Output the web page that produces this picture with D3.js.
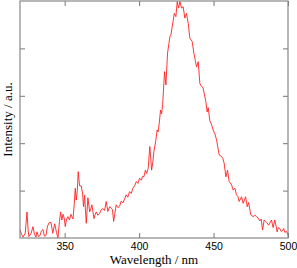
<!DOCTYPE html>
<html lang="en">
  <head>
    <meta charset="utf-8">
    <title>Emission spectrum</title>
    <script src="https://cdn.jsdelivr.net/npm/d3@7/dist/d3.min.js"></script>
    <style>
      body { margin: 0; background: #fff; }
    </style>
  </head>
  <body>
    <script>
      const WIDTH = 297;
      const HEIGHT = 268;

      // spectrum (nm, arbitrary units)
      var wavelength = [320, 321, 322, 323.5, 324.7, 325.5, 326, 327.5, 328.7, 329.7, 330.7, 331.4, 332.4, 333.4,
        334.4, 335.4, 336.4, 337.4, 338.5, 339.5, 340.8, 342, 343.3, 344.5, 345.5, 346.5, 347.3, 348.1, 348.9,
        349.7, 350.4, 351.3, 352.2, 353.2, 354.2, 355, 355.6, 356.4, 357.1, 357.8, 358.5, 359.1, 360, 361.1,
        362, 362.7, 363.4, 364.5, 365.6, 366.8, 367.5, 368.3, 369.7, 370.5, 371.2, 372.3, 373.5, 374.6, 375.7,
        376.8, 377.9, 379, 380.2, 381.3, 382.1, 382.9, 384.6, 385.8, 386.9, 388, 389.1, 390.2, 391.3, 392.4,
        393.6, 394.7, 395.8, 397, 398.1, 399.2, 400.3, 401.5, 402.3, 403.2, 404.2, 405.1, 406.1, 407.2, 408.4,
        409.2, 409.9, 411.1, 412.1, 412.8, 413.6, 414.4, 415.1, 415.8, 417.1, 418, 419.1, 420, 420.7, 421.5,
        422.2, 423, 423.6, 424.7, 425.6, 426.5, 427.4, 428.5, 429.6, 430.7, 431.8, 433, 434.1, 435.6, 436.8,
        437.7, 438.6, 439.7, 440.8, 442, 443, 444.8, 445.7, 446.4, 447.5, 448.6, 449.7, 450.9, 452, 453.8,
        455.4, 456.2, 457.1, 458.3, 459.4, 460.5, 462.1, 463.2, 464.3, 465.4, 466.3, 467.2, 468.8, 469.9,
        470.7, 471.5, 472.6, 473.5, 475, 476.6, 477.8, 478.9, 479.9, 481.1, 482, 482.9, 484, 485.6, 487.1,
        488.9, 490, 491.1, 492, 492.7, 493.6, 494.5, 495.4, 496.3, 497.1, 497.9, 499, 500];
      var intensity = [0.17, 0.08, 0.02, 0.1, 0.55, 0.15, 0.03, 0.1, 0.24, 0.08, 0.02, 0.13, 0.03, 0.05,
        0.15, 0.18, 0.04, 0.05, 0.25, 0.32, 0.33, 0.1, 0.3, 0.12, 0.0, 0.35, 0.55, 0.38, 0.5,
        0.42, 0.24, 0.4, 0.45, 0.38, 0.5, 0.44, 0.4, 0.7, 1.05, 0.8, 1.0, 1.4, 1.1, 1.1,
        0.95, 0.66, 0.9, 0.31, 0.85, 0.55, 0.62, 0.7, 0.41, 0.5, 0.55, 0.48, 0.52, 0.6, 0.62,
        0.58, 0.77, 0.56, 0.66, 0.63, 0.6, 0.35, 0.7, 0.64, 0.67, 0.78, 0.74, 0.82, 0.91, 0.86,
        0.98, 0.94, 1.05, 1.1, 1.19, 1.15, 1.26, 1.22, 1.3, 1.29, 1.43, 1.36, 1.47, 1.93, 1.43,
        1.6, 1.82, 2.03, 2.28, 2.24, 2.45, 2.7, 2.62, 2.81, 3.51, 3.23, 3.9, 4.1, 4.25, 4.3,
        4.46, 4.6, 4.74, 4.67, 4.99, 4.85, 4.99, 4.85, 4.88, 4.64, 4.74, 4.53, 4.21, 4.15, 3.9,
        3.75, 3.61, 3.72, 3.26, 3.2, 3.16, 2.88, 2.66, 2.75, 2.47, 2.4, 2.28, 2.2, 2.07, 1.75,
        1.72, 1.68, 1.58, 1.29, 1.43, 1.19, 1.12, 1.01, 1.05, 0.91, 0.88, 0.77, 0.87, 0.73,
        0.8, 0.87, 0.66, 0.75, 0.49, 0.45, 0.48, 0.45, 0.42, 0.36, 0.4, 0.17, 0.38, 0.33, 0.27,
        0.38, 0.22, 0.38, 0.25, 0.13, 0.22, 0.2, 0.14, 0.15, 0.2, 0.12, 0.14, 0.06];

      var xTicks = [350, 400, 450, 500];
      var yTicks = [1, 2, 3, 4];

      const margin = {left: 20, right: 9, top: 1, bottom: 30};
      const TICK = 5;

      var svg = d3.select("body").append("svg")
        .attr("width", WIDTH)
        .attr("height", HEIGHT);

      var x = d3.scaleLinear()
        .domain([320, 500])
        .range([margin.left, WIDTH - margin.right]);
      var y = d3.scaleLinear()
        .domain([0, 5])
        .range([HEIGHT - margin.bottom, margin.top]);

      // line first, frame on top
      var line = d3.line()
        .x(function(d, i){ return x(wavelength[i]); })
        .y(function(d){ return y(d); });

      svg.append("path")
        .datum(intensity)
        .attr("fill", "none")
        .attr("stroke", "#ff2020")
        .attr("stroke-width", 0.9)
        .attr("stroke-linejoin", "round")
        .attr("d", line);

      // inward ticks on all four sides
      function frameAxis(gen, tx, ty){
        var g = svg.append("g")
          .attr("transform", "translate(" + tx + "," + ty + ")")
          .call(gen);
        g.select(".domain").remove();
        g.selectAll(".tick line").attr("stroke", "#777");
        return g;
      }

      var bottom = frameAxis(d3.axisBottom(x).tickValues(xTicks).tickSizeInner(-TICK).tickSizeOuter(0).tickPadding(4.5),
        0, y(0));
      bottom.selectAll("text")
        .attr("font-family", "Liberation Sans, Arial, sans-serif")
        .attr("font-size", 10.5)
        .attr("fill", "#000");
      frameAxis(d3.axisTop(x).tickValues(xTicks).tickSizeInner(-TICK).tickSizeOuter(0).tickFormat(""),
        0, y(5));
      frameAxis(d3.axisLeft(y).tickValues(yTicks).tickSizeInner(-TICK).tickSizeOuter(0).tickFormat(""),
        x(320), 0);
      frameAxis(d3.axisRight(y).tickValues(yTicks).tickSizeInner(-TICK).tickSizeOuter(0).tickFormat(""),
        x(500), 0);

      svg.append("rect")
        .attr("x", x(320))
        .attr("y", y(5))
        .attr("width", x(500) - x(320))
        .attr("height", y(0) - y(5))
        .attr("fill", "none")
        .attr("stroke", "#888")
        .attr("stroke-width", 1.2);

      svg.append("text")
        .attr("x", (x(320) + x(500)) / 2)
        .attr("y", 264)
        .attr("text-anchor", "middle")
        .attr("style", "font-family: 'Liberation Serif', 'Times New Roman', serif; font-size: 13px;")
        .text("Wavelength / nm");

      svg.append("text")
        .attr("transform", "translate(12," + (y(0) + y(5)) / 2 + ") rotate(-90)")
        .attr("text-anchor", "middle")
        .attr("style", "font-family: 'Liberation Serif', 'Times New Roman', serif; font-size: 13px;")
        .text("Intensity / a.u.");
    </script>
  </body>
</html>
